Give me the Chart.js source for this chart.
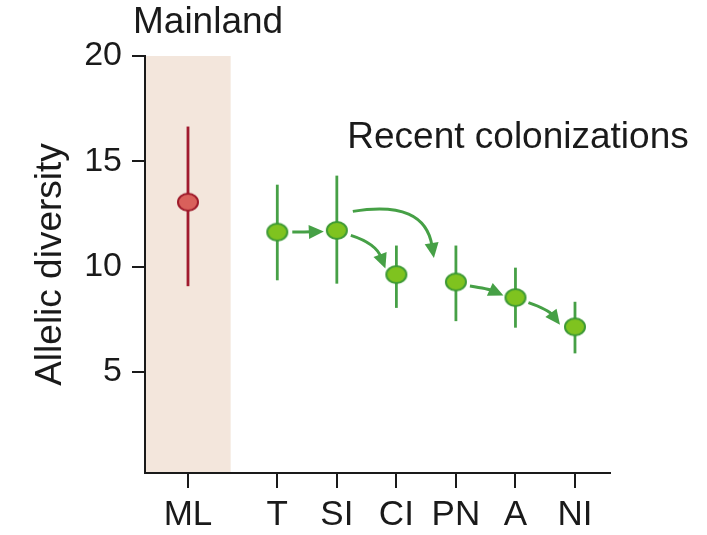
<!DOCTYPE html>
<html><head><meta charset="utf-8">
<script src="https://cdn.jsdelivr.net/npm/chart.js@4"></script>
<style>html,body{margin:0;padding:0;background:#fff;} canvas{display:block}</style>
</head><body>
<canvas id="c" width="707" height="535"></canvas>
<script>
// ---- data ----
const categories = ['ML','T','SI','CI','PN','A','NI'];
const xIndex = [0, 1.5, 2.5, 3.5, 4.5, 5.5, 6.5];
const meanDiversity = [13.06, 11.64, 11.72, 9.62, 9.27, 8.53, 7.14];
const lowDiversity  = [9.07, 9.35, 9.19, 8.04, 7.41, 7.10, 5.88];
const highDiversity = [16.65, 13.89, 14.32, 11.0, 11.0, 9.95, 8.33];
const yTickValues = [5, 10, 15, 20];
const colonizationArrows = [['T','SI'], ['SI','CI'], ['SI','PN'], ['PN','A'], ['A','NI']];
const groupTitles = ['Mainland', 'Recent colonizations'];
const yTitle = 'Allelic diversity';

// ---- styles ----
const FONT = '"Liberation Sans", Arial, sans-serif';
const TEXT = '#1a1a1a';
const GREEN_LINE = '#46a046';
const RED_LINE = '#a01a2e';
const BAND = '#f3e6dc';

function ellipseImg(fill, stroke, w, h, lw) {
  const c = document.createElement('canvas');
  c.width = w + lw * 2; c.height = h + lw * 2;
  const g = c.getContext('2d');
  g.beginPath();
  g.ellipse(c.width / 2, c.height / 2, w / 2, h / 2, 0, 0, Math.PI * 2);
  g.fillStyle = fill; g.fill();
  g.lineWidth = lw; g.strokeStyle = stroke; g.stroke();
  return c;
}
const greenDot = ellipseImg('#7fc31f', '#3e9a35', 20, 17, 2);
const redDot = ellipseImg('#d9605b', '#9e1b2b', 20, 17, 2);

const mainlandPts = [{x: xIndex[0], y: meanDiversity[0]}];
const colonPts = xIndex.slice(1).map((x, i) => ({x, y: meanDiversity[i + 1]}));

// arrow geometry relative to the points (pixels): start offset, end offset, control offset from start
const arrowGeom = {
  'T-SI':  {s: [15, 0],  e: [-13, 1],  c: [14, 0]},
  'SI-CI': {s: [14, 5],  e: [-11, -6], c: [25, 8]},
  'SI-PN': {s: [16, -19], e: [-22, -24], c: [72, -12]},
  'PN-A':  {s: [14, 4],  e: [-12, -2], c: [19, 3]},
  'A-NI':  {s: [13, 5],  e: [-15, -2], c: [20, 7]}
};

const decor = {
  id: 'decor',
  beforeDraw(chart) {
    const {ctx, chartArea: a, scales: {x}} = chart;
    const mid = x.getPixelForValue((xIndex[0] + xIndex[1]) / 2) - 2;
    ctx.save();
    ctx.fillStyle = BAND;
    ctx.fillRect(a.left + 1, a.top, mid - a.left - 1, a.bottom - a.top);
    ctx.restore();
  },
  beforeDatasetsDraw(chart) {
    const {ctx, scales: {x, y}} = chart;
    ctx.save();
    ctx.lineWidth = 2.8;
    xIndex.forEach((xv, i) => {
      const px = x.getPixelForValue(xv);
      ctx.strokeStyle = i === 0 ? RED_LINE : GREEN_LINE;
      ctx.beginPath();
      ctx.moveTo(px, y.getPixelForValue(lowDiversity[i]));
      ctx.lineTo(px, y.getPixelForValue(highDiversity[i]));
      ctx.stroke();
    });
    // arrows
    ctx.strokeStyle = GREEN_LINE; ctx.fillStyle = GREEN_LINE;
    ctx.lineWidth = 3;
    colonizationArrows.forEach(([f, t]) => {
      const fi = categories.indexOf(f), ti = categories.indexOf(t);
      const fx = x.getPixelForValue(xIndex[fi]), fy = y.getPixelForValue(meanDiversity[fi]);
      const tx = x.getPixelForValue(xIndex[ti]), ty = y.getPixelForValue(meanDiversity[ti]);
      const g = arrowGeom[f + '-' + t];
      const sx = fx + g.s[0], sy = fy + g.s[1];
      const ex = tx + g.e[0], ey = ty + g.e[1];
      const cx = sx + g.c[0], cy = sy + g.c[1];
      let dx = ex - cx, dy = ey - cy;
      const L = Math.hypot(dx, dy); dx /= L; dy /= L;
      const hl = 15, hw = 7;
      const bx = ex - dx * (hl - 3), by = ey - dy * (hl - 3);
      ctx.beginPath();
      ctx.moveTo(sx, sy);
      ctx.quadraticCurveTo(cx, cy, bx, by);
      ctx.stroke();
      const b2x = ex - dx * hl, b2y = ey - dy * hl;
      ctx.beginPath();
      ctx.moveTo(ex, ey);
      ctx.lineTo(b2x - dy * hw, b2y + dx * hw);
      ctx.lineTo(b2x + dy * hw, b2y - dx * hw);
      ctx.closePath();
      ctx.fill();
    });
    ctx.restore();
  },
  afterDraw(chart) {
    const {ctx, chartArea: a, scales: {x, y}} = chart;
    ctx.save();
    ctx.fillStyle = TEXT;
    ctx.font = '37px ' + FONT;
    ctx.textAlign = 'left';
    ctx.textBaseline = 'alphabetic';
    ctx.fillText(groupTitles[0], a.left - 12, a.top - 23);
    ctx.fillText(groupTitles[1], x.getPixelForValue(xIndex[1]) + 70, y.getPixelForValue(15) - 13);
    ctx.restore();
  }
};

new Chart(document.getElementById('c'), {
  type: 'scatter',
  data: {
    datasets: [
      {label: 'Mainland', data: mainlandPts, pointStyle: redDot, pointRadius: 10},
      {label: 'Recent colonizations', data: colonPts, pointStyle: greenDot, pointRadius: 10}
    ]
  },
  options: {
    responsive: false,
    animation: false,
    layout: {padding: {top: 56, right: 97, left: 0, bottom: 0}},
    plugins: {legend: {display: false}, tooltip: {enabled: false}},
    scales: {
      x: {
        type: 'linear', min: -0.722, max: 7.088,
        afterBuildTicks: s => { s.ticks = xIndex.map(v => ({value: v})); },
        afterFit: s => { s.height = 62; },
        ticks: {
          callback: (v, i) => categories[i],
          font: {family: FONT, size: 35}, color: TEXT, padding: 6,
          maxRotation: 0, autoSkip: false
        },
        grid: {drawOnChartArea: false, drawTicks: true, tickLength: 15, color: TEXT, lineWidth: 2},
        border: {display: true, color: TEXT, width: 2}
      },
      y: {
        min: 0.2, max: 20,
        afterBuildTicks: s => { s.ticks = yTickValues.map(v => ({value: v})); },
        afterFit: s => { s.width = 145; },
        ticks: {font: {family: FONT, size: 34}, color: TEXT, padding: 10},
        grid: {drawOnChartArea: false, drawTicks: true, tickLength: 13, color: TEXT, lineWidth: 2},
        border: {display: true, color: TEXT, width: 2},
        title: {display: true, text: yTitle, color: TEXT, font: {family: FONT, size: 37}, padding: {top: 29, bottom: 0}}
      }
    }
  },
  plugins: [decor]
});
</script>
</body></html>
